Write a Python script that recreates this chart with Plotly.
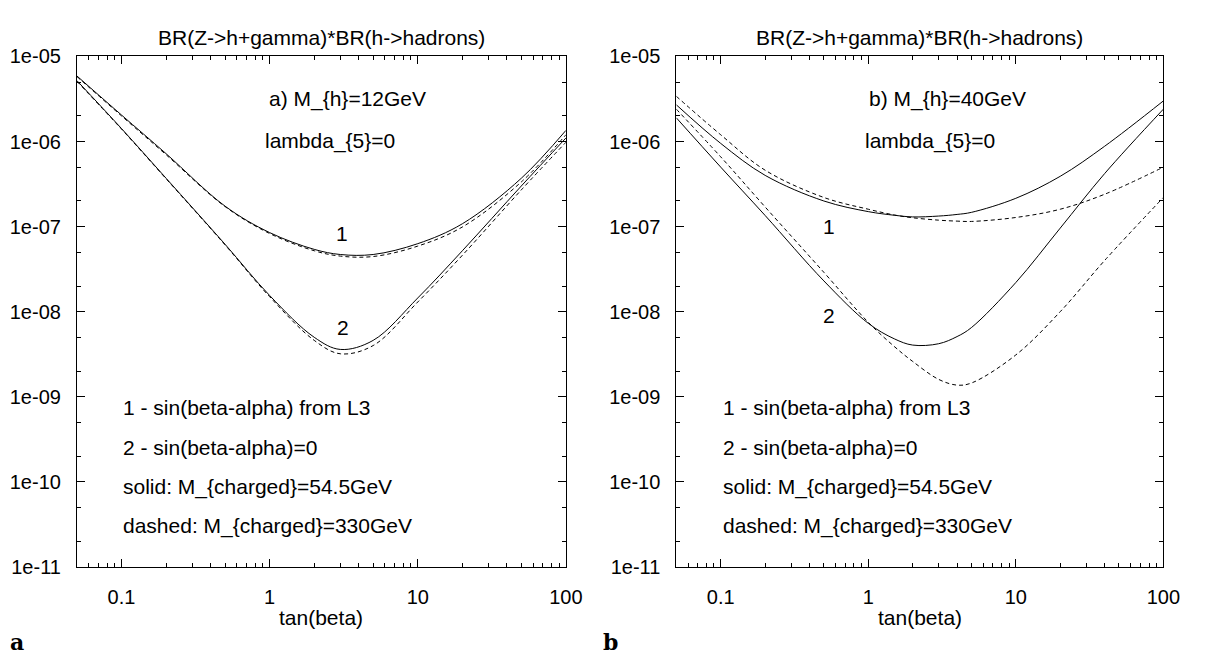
import plotly.graph_objects as go

# ---------------- data ----------------
tan_beta_a = [0.05, 0.1, 0.2, 0.5, 1, 2, 3, 5, 10, 20, 50, 100]
a_curve1_solid = [5.9e-6, 2.05e-6, 7.2e-7, 1.74e-7, 8.5e-8, 5.4e-8, 4.7e-8, 4.7e-8, 6.3e-8, 1.08e-7, 3.7e-7, 1.35e-6]
a_curve1_dash = [5.8e-6, 2.0e-6, 7.0e-7, 1.72e-7, 8.3e-8, 5.2e-8, 4.5e-8, 4.45e-8, 5.9e-8, 9.9e-8, 3.35e-7, 1.2e-6]
a_curve2_solid = [5.2e-6, 1.42e-6, 3.7e-7, 6.2e-8, 1.55e-8, 5.0e-9, 3.6e-9, 4.6e-9, 1.45e-8, 5.2e-8, 3.0e-7, 1.1e-6]
a_curve2_dash = [5.1e-6, 1.4e-6, 3.65e-7, 6.1e-8, 1.5e-8, 4.6e-9, 3.2e-9, 4.0e-9, 1.3e-8, 4.6e-8, 2.7e-7, 9.8e-7]

tan_beta_b = [0.05, 0.1, 0.2, 0.5, 1, 1.5, 2, 3, 4, 5, 10, 20, 40, 100]
b_curve1_solid = [2.7e-6, 9.5e-7, 4.0e-7, 2.0e-7, 1.5e-7, 1.36e-7, 1.3e-7, 1.33e-7, 1.39e-7, 1.47e-7, 2.15e-7, 3.9e-7, 8.8e-7, 3.0e-6]
b_curve1_dash = [3.4e-6, 1.2e-6, 4.6e-7, 2.2e-7, 1.6e-7, 1.37e-7, 1.27e-7, 1.19e-7, 1.16e-7, 1.15e-7, 1.28e-7, 1.6e-7, 2.4e-7, 5.0e-7]
b_curve2_solid = [1.9e-6, 5.0e-7, 1.35e-7, 2.3e-8, 7.3e-9, 4.8e-9, 4.05e-9, 4.2e-9, 5.1e-9, 6.5e-9, 2.2e-8, 9.6e-8, 4.2e-7, 2.4e-6]
b_curve2_dash = [2.4e-6, 6.6e-7, 1.7e-7, 2.9e-8, 7.5e-9, 3.9e-9, 2.6e-9, 1.6e-9, 1.37e-9, 1.45e-9, 3.1e-9, 1.0e-8, 4.0e-8, 2.2e-7]

x_tick_vals = [0.1, 1, 10, 100]
x_tick_text = ["0.1", "1", "10", "100"]
x_minor_vals = [0.06, 0.07, 0.08, 0.09, 0.2, 0.3, 0.4, 0.5, 0.6, 0.7, 0.8, 0.9,
                2, 3, 4, 5, 6, 7, 8, 9, 20, 30, 40, 50, 60, 70, 80, 90]
y_tick_vals = [1e-11, 1e-10, 1e-9, 1e-8, 1e-7, 1e-6, 1e-5]
y_tick_text = ["1e-11", "1e-10", "1e-09", "1e-08", "1e-07", "1e-06", "1e-05"]
y_minor_vals = [2e-11, 5e-11, 2e-10, 5e-10, 2e-9, 5e-9, 2e-8, 5e-8, 2e-7, 5e-7, 2e-6, 5e-6]

title_text = "BR(Z->h+gamma)*BR(h->hadrons)"
x_title = "tan(beta)"
legend_lines = ["1 - sin(beta-alpha) from L3", "2 - sin(beta-alpha)=0",
                "solid: M_{charged}=54.5GeV", "dashed: M_{charged}=330GeV"]

# ---------------- figure ----------------
W, H = 1205, 663
FONT = "Liberation Sans, Arial, sans-serif"
FS = 21
FS_TICK = 20

fig = go.Figure()

def add(x, y, dash, xa, ya):
    fig.add_trace(go.Scatter(x=x, y=y, mode="lines", xaxis=xa, yaxis=ya,
                             line=dict(color="black", width=1, dash=dash, shape="spline", smoothing=1.0),
                             showlegend=False, hoverinfo="skip"))

add(tan_beta_a, a_curve1_solid, "solid", "x", "y")
add(tan_beta_a, a_curve1_dash, "4px,3px", "x", "y")
add(tan_beta_a, a_curve2_solid, "solid", "x", "y")
add(tan_beta_a, a_curve2_dash, "4px,3px", "x", "y")
add(tan_beta_b, b_curve1_solid, "solid", "x2", "y2")
add(tan_beta_b, b_curve1_dash, "4px,3px", "x2", "y2")
add(tan_beta_b, b_curve2_solid, "solid", "x2", "y2")
add(tan_beta_b, b_curve2_dash, "4px,3px", "x2", "y2")

def px(x):
    return x / W

def py(y):
    return 1 - y / H

L1, R1 = 78, 574
L2, R2 = 686, 1180
T, B = 47, 575

common_x = dict(type="log", range=[-1.30103, 2], showline=True, linecolor="black", linewidth=1,
                mirror="allticks", ticks="inside", ticklen=8, tickwidth=1, tickcolor="black",
                tickvals=x_tick_vals, ticktext=x_tick_text, showgrid=False, zeroline=False,
                tickfont=dict(family=FONT, size=FS_TICK, color="black"), ticklabelstandoff=12,
                minor=dict(tickvals=x_minor_vals, ticks="inside", ticklen=4, tickwidth=1,
                           tickcolor="black", showgrid=False))
common_y = dict(type="log", range=[-11, -5], showline=True, linecolor="black", linewidth=1,
                mirror="allticks", ticks="inside", ticklen=8, tickwidth=1, tickcolor="black",
                tickvals=y_tick_vals, ticktext=y_tick_text, showgrid=False, zeroline=False,
                tickfont=dict(family=FONT, size=FS_TICK, color="black"), ticklabelstandoff=11,
                minor=dict(tickvals=y_minor_vals, ticks="inside", ticklen=4, tickwidth=1,
                           tickcolor="black", showgrid=False))

fig.update_layout(
    width=W, height=H, margin=dict(l=0, r=0, t=0, b=0),
    paper_bgcolor="white", plot_bgcolor="white",
    xaxis=dict(domain=[px(L1), px(R1)], anchor="y", **common_x),
    yaxis=dict(domain=[py(B), py(T)], anchor="x", **common_y),
    xaxis2=dict(domain=[px(L2), px(R2)], anchor="y2", **common_x),
    yaxis2=dict(domain=[py(B), py(T)], anchor="x2", **common_y),
)

def note(text, x, y, xanchor="center", size=FS, family=FONT):
    fig.add_annotation(text=text, x=px(x), y=py(y), xref="paper", yref="paper",
                       xanchor=xanchor, yanchor="middle", showarrow=False,
                       font=dict(family=family, size=size, color="black"))

for L, R, lab, mh in [(L1, R1, "a", "a) M_{h}=12GeV"), (L2, R2, "b", "b) M_{h}=40GeV")]:
    c = (L + R) / 2
    note(title_text, c, 27)
    note(x_title, c, 627)
    note(mh, L + 193, 91, xanchor="left")
    note("lambda_{5}=0", L + 189, 134, xanchor="left")
    for i, line in enumerate(legend_lines):
        note(line, L + 45, 410 + 41 * i, xanchor="left")
    note("<b>%s</b>" % lab, L - 70 if lab == "a" else L - 76, 653, xanchor="left",
         size=22, family="DejaVu Serif, serif")

note("1", 347, 230)
note("2", 348, 327)
note("1", 841, 223)
note("2", 841, 315)

fig.write_html("out.html")
